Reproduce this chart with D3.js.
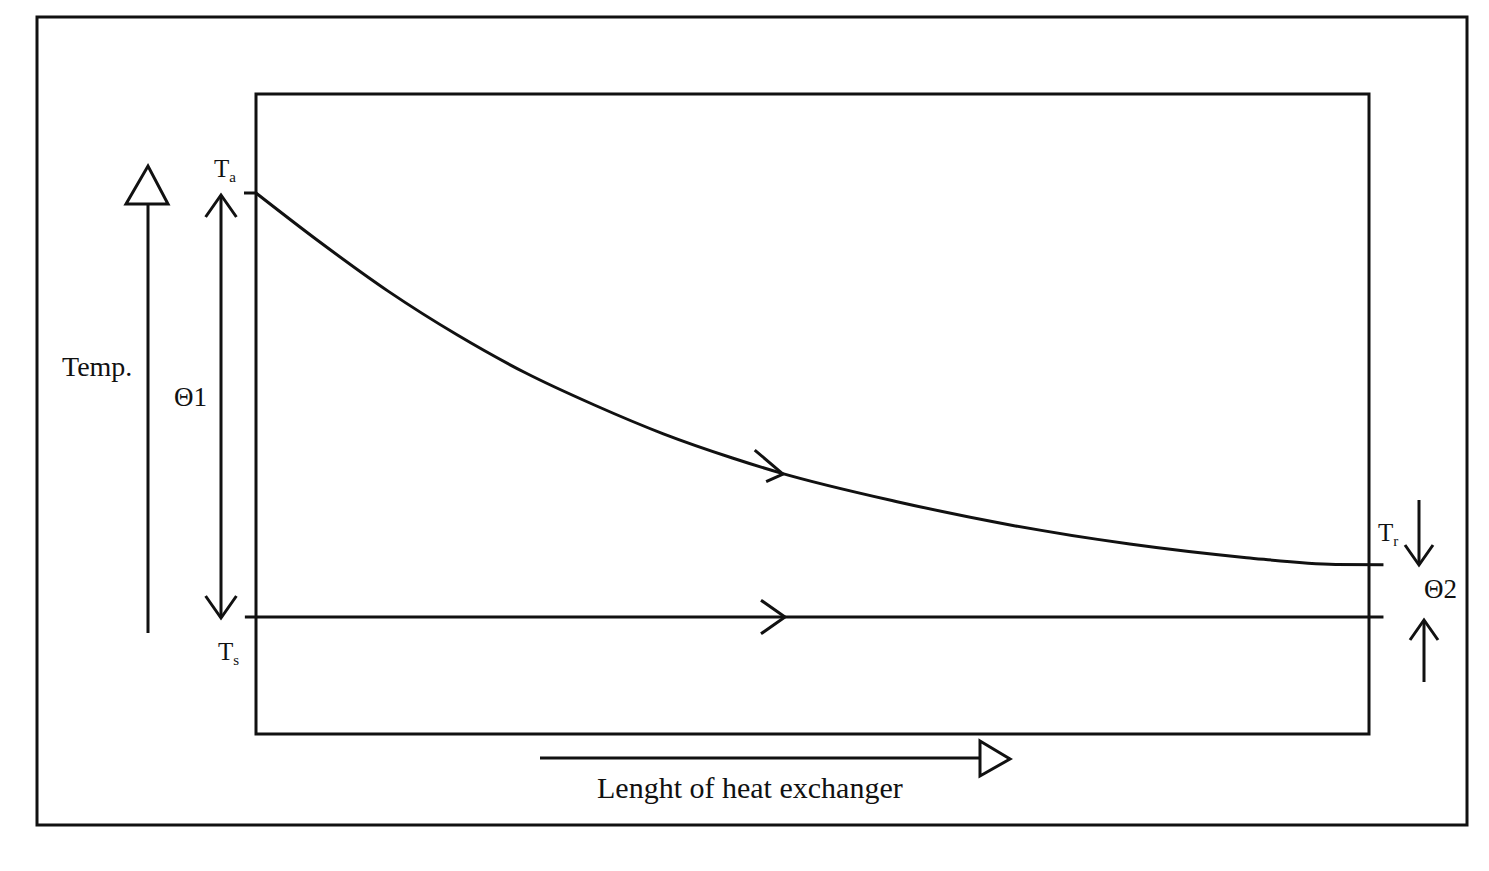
<!DOCTYPE html>
<html><head><meta charset="utf-8">
<script src="https://cdn.jsdelivr.net/npm/d3@7"></script>
<style>body{margin:0;background:#fff}text{font-family:"Liberation Serif",serif;fill:#111}</style>
</head><body><svg id="c" width="1489" height="871"></svg>
<script>
// hot stream temperature along the exchanger (fraction of length, temp %)
const hotPos = [0, 0.057, 0.119, 0.181, 0.242, 0.304, 0.366, 0.428, 0.471, 0.576, 0.680, 0.785, 0.890, 0.970, 1.013];
const hotTemp = [100, 88.5, 76.8, 66.5, 57.6, 50.0, 43.2, 37.5, 34.0, 27.2, 21.6, 17.2, 14.0, 12.4, 12.3];
const coldPos = [-0.01, 1.013];
const coldTemp = [0, 0];

const svg = d3.select("#c");
const x = d3.scaleLinear().domain([0, 1]).range([256, 1369]);
const y = d3.scaleLinear().domain([0, 100]).range([617, 193]);
const k = "#111";

svg.append("rect").attr("x", 37).attr("y", 17).attr("width", 1430).attr("height", 808)
  .attr("fill", "none").attr("stroke", k).attr("stroke-width", 3);
svg.append("rect").attr("x", 256).attr("y", 94).attr("width", 1113).attr("height", 640)
  .attr("fill", "none").attr("stroke", k).attr("stroke-width", 3);

const line = d3.line().x(d => x(d[0])).y(d => y(d[1])).curve(d3.curveMonotoneX);
svg.append("path").datum(d3.zip(hotPos, hotTemp)).attr("d", line)
  .attr("fill", "none").attr("stroke", k).attr("stroke-width", 3);
svg.append("path").datum(d3.zip(coldPos, coldTemp)).attr("d", d3.line().x(d => x(d[0])).y(d => y(d[1])))
  .attr("fill", "none").attr("stroke", k).attr("stroke-width", 3);
// tick at Ta
svg.append("line").attr("x1", 244).attr("x2", 256).attr("y1", y(100)).attr("y2", y(100)).attr("stroke", k).attr("stroke-width", 3);

function seg(x1, y1, x2, y2) {
  svg.append("line").attr("x1", x1).attr("y1", y1).attr("x2", x2).attr("y2", y2)
    .attr("stroke", k).attr("stroke-width", 3);
}
function chev(cx, cy, dx, dy, s) { // open arrow head pointing (dx,dy)
  svg.append("polyline")
    .attr("points", `${cx - dx * s - dy * s * 0.7},${cy - dy * s - dx * s * 0.7} ${cx},${cy} ${cx - dx * s + dy * s * 0.7},${cy - dy * s + dx * s * 0.7}`)
    .attr("fill", "none").attr("stroke", k).attr("stroke-width", 3);
}

// flow direction chevrons
chev(785, 617, 1, 0, 24);
chev(783, 474, 0.94, 0.34, 24);

// Temp axis arrow
seg(148, 633, 148, 204);
svg.append("path").attr("d", "M126,204 L148,166 L168,204 Z").attr("fill", "#fff").attr("stroke", k).attr("stroke-width", 3);
// length arrow
seg(540, 758, 980, 758);
svg.append("path").attr("d", "M980,741 L1010,759 L980,776 Z").attr("fill", "#fff").attr("stroke", k).attr("stroke-width", 3);

// Θ1 double arrow
seg(221, 195, 221, 618);
chev(221, 195, 0, -1, 22);
chev(221, 618, 0, 1, 22);
// Θ2 arrows
seg(1419, 500, 1419, 565); chev(1419, 565, 0, 1, 20);
seg(1424, 620, 1424, 682); chev(1424, 620, 0, -1, 20);

function lbl(t, sub, xx, yy, size) {
  const tx = svg.append("text").attr("x", xx).attr("y", yy).attr("font-size", size).text(t);
  if (sub) tx.append("tspan").attr("font-size", size * 0.6).attr("dy", 5).text(sub);
}
lbl("T", "a", 214, 177, 25);
lbl("T", "r", 1378, 541, 25);
lbl("T", "s", 218, 660, 25);
lbl("Temp.", null, 62, 376, 28);
lbl("Θ1", null, 174, 406, 27);
lbl("Θ2", null, 1424, 598, 27);
lbl("Lenght of heat exchanger", null, 597, 798, 30);
</script></body></html>
